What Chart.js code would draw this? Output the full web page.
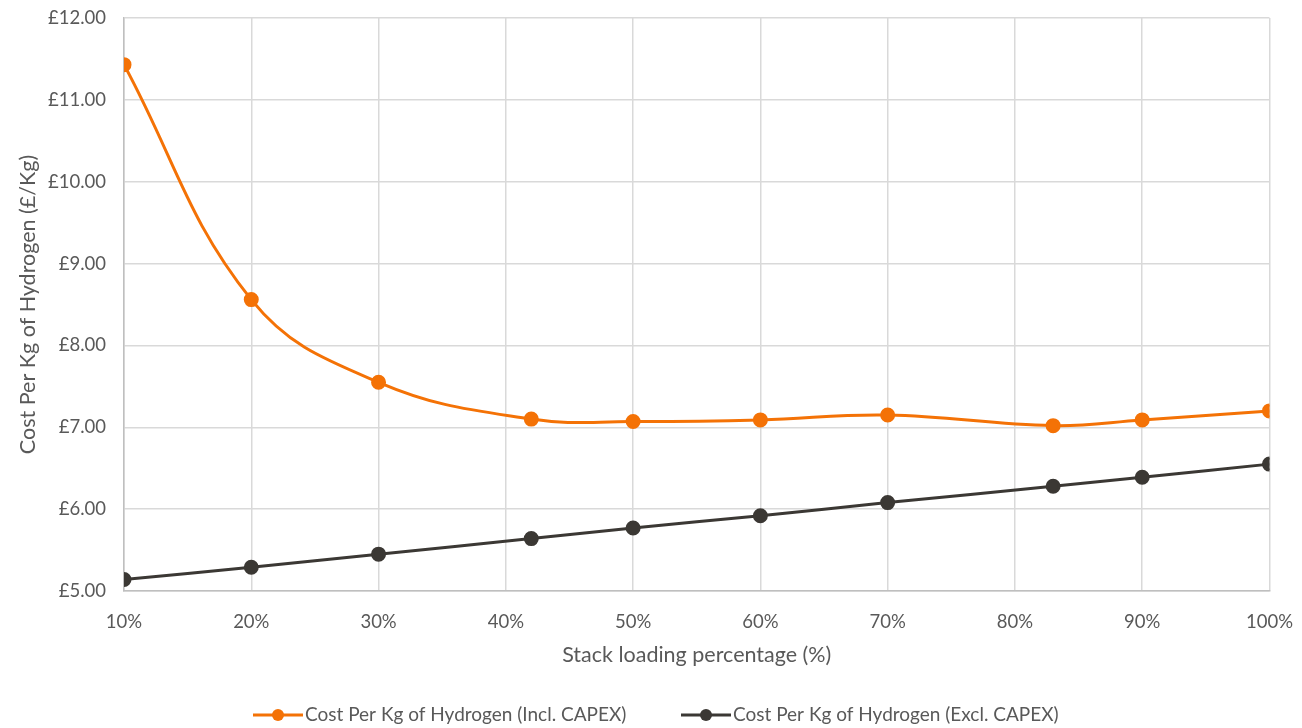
<!DOCTYPE html>
<html>
<head>
<meta charset="utf-8">
<script src="https://cdn.jsdelivr.net/npm/chart.js@4/dist/chart.umd.min.js"></script>
<style>
html,body{margin:0;padding:0;background:#fff;}
#wrap{width:1302px;height:728px;position:relative;}
</style>
</head>
<body>
<div id="wrap"><canvas id="c" width="1302" height="728"></canvas></div>
<script>
const loading = [10, 20, 30, 42, 50, 60, 70, 83, 90, 100];
const costIncl = [11.43, 8.56, 7.55, 7.10, 7.07, 7.09, 7.15, 7.02, 7.09, 7.20];
const costExcl = [5.14, 5.29, 5.45, 5.64, 5.77, 5.92, 6.08, 6.28, 6.39, 6.55];
const seriesNames = ['Cost Per Kg of Hydrogen (Incl. CAPEX)', 'Cost Per Kg of Hydrogen (Excl. CAPEX)'];
const xTitle = 'Stack loading percentage (%)';
const yTitle = 'Cost Per Kg of Hydrogen (£/Kg)';

const ORANGE = '#F47206';
const DARK = '#3B3834';
const FONT = 'Lato';
const TXT = '#595959';

const legendPlugin = {
  id: 'excelLegend',
  afterDraw(chart) {
    const ctx = chart.ctx;
    const y = 715;
    const items = [
      {x: 253, color: ORANGE, text: seriesNames[0]},
      {x: 681, color: DARK, text: seriesNames[1]}
    ];
    ctx.save();
    items.forEach(it => {
      ctx.strokeStyle = it.color;
      ctx.lineWidth = 3;
      ctx.beginPath();
      ctx.moveTo(it.x, y);
      ctx.lineTo(it.x + 50, y);
      ctx.stroke();
      ctx.fillStyle = it.color;
      ctx.beginPath();
      ctx.arc(it.x + 25, y, 6, 0, Math.PI * 2);
      ctx.fill();
      ctx.fillStyle = TXT;
      ctx.font = '19px ' + FONT;
      ctx.textBaseline = 'middle';
      ctx.textAlign = 'left';
      ctx.fillText(it.text, it.x + 52, y);
    });
    ctx.restore();
  }
};

new Chart(document.getElementById('c'), {
  type: 'scatter',
  data: {
    datasets: [
      {
        label: seriesNames[0],
        data: loading.map((x, i) => ({x: x, y: costIncl[i]})),
        showLine: true,
        borderColor: ORANGE,
        backgroundColor: ORANGE,
        borderWidth: 3,
        pointRadius: 6,
        pointHoverRadius: 6,
        tension: 0.4
      },
      {
        label: seriesNames[1],
        data: loading.map((x, i) => ({x: x, y: costExcl[i]})),
        showLine: true,
        borderColor: DARK,
        backgroundColor: DARK,
        borderWidth: 3,
        pointRadius: 6,
        pointHoverRadius: 6,
        tension: 0.4
      }
    ]
  },
  options: {
    responsive: false,
    animation: false,
    devicePixelRatio: 1,
    layout: {padding: {top: 18, right: 28, left: 0, bottom: 0}},
    plugins: {legend: {display: false}, tooltip: {enabled: false}},
    scales: {
      x: {
        type: 'linear',
        min: 10, max: 100,
        afterFit(s) { s.height = 137; },
        ticks: {stepSize: 10, callback: v => v + '%', color: TXT, font: {family: FONT, size: 18.5}, padding: 9, maxRotation: 0},
        grid: {color: '#d9d9d9', lineWidth: 1.5, drawTicks: true, tickLength: 11, tickColor: 'rgba(0,0,0,0)'},
        border: {color: '#bfbfbf', width: 1.5},
        title: {display: true, text: xTitle, color: TXT, font: {family: FONT, size: 21.5}, padding: {top: 0, bottom: 60}}
      },
      y: {
        min: 5, max: 12,
        afterFit(s) { s.width = 124; },
        ticks: {stepSize: 1, callback: v => '£' + Number(v).toFixed(2), color: TXT, font: {family: FONT, size: 18.5}, padding: 6},
        grid: {color: '#d9d9d9', lineWidth: 1.5, drawTicks: true, tickLength: 12, tickColor: 'rgba(0,0,0,0)'},
        border: {color: '#bfbfbf', width: 1.5},
        title: {display: true, text: yTitle, color: TXT, font: {family: FONT, size: 21.5}, padding: {top: 15, bottom: 0}}
      }
    }
  },
  plugins: [legendPlugin]
});
</script>
</body>
</html>
